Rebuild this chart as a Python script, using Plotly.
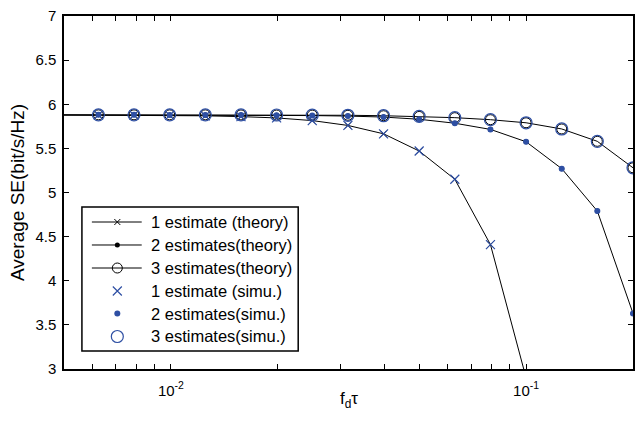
import plotly.graph_objects as go

# Normalised Doppler spread f_d*tau (log axis)
fd_tau = [0.00394, 0.00625, 0.00787, 0.00992, 0.0125, 0.01575, 0.01984, 0.025,
          0.0315, 0.03969, 0.05, 0.063, 0.07937, 0.1, 0.126, 0.1587, 0.2]

# Theoretical average spectral efficiency (bit/s/Hz)
theory_1 = [5.88, 5.879, 5.877, 5.874, 5.869, 5.86, 5.845, 5.815,
            5.76, 5.665, 5.47, 5.15, 4.41, 2.9]
theory_2 = [5.88, 5.88, 5.88, 5.879, 5.878, 5.877, 5.875, 5.872,
            5.866, 5.855, 5.83, 5.785, 5.715, 5.575, 5.27, 4.79, 3.63]
theory_3 = [5.88, 5.88, 5.88, 5.88, 5.88, 5.879, 5.878, 5.877,
            5.875, 5.87, 5.862, 5.848, 5.825, 5.79, 5.72, 5.58, 5.28]

# Simulated average spectral efficiency (starts at the first plotted f_d*tau)
sim_x = fd_tau[1:]
sim_1 = [5.879, 5.877, 5.874, 5.869, 5.86, 5.845, 5.815,
         5.76, 5.665, 5.47, 5.15, 4.41]
sim_2 = [5.88, 5.88, 5.879, 5.878, 5.877, 5.875, 5.872,
         5.866, 5.855, 5.83, 5.785, 5.715, 5.575, 5.27, 4.79, 3.63]
sim_3 = [5.88, 5.88, 5.88, 5.88, 5.879, 5.878, 5.877,
         5.875, 5.87, 5.862, 5.848, 5.825, 5.79, 5.72, 5.58, 5.28]

legend_labels = ["1 estimate (theory)", "2 estimates(theory)", "3 estimates(theory)",
                 "1 estimate (simu.)", "2 estimates(simu.)", "3 estimates(simu.)"]

y_ticks = [3, 3.5, 4, 4.5, 5, 5.5, 6, 6.5, 7]
y_ticktext = ["3", "3.5", "4", "4.5", "5", "5.5", "6", "6.5", "7"]
x_ticks = [0.01, 0.1]
x_ticktext = ["10<sup>-2</sup>", "10<sup>-1</sup>"]
x_minor = [0.006, 0.007, 0.008, 0.009, 0.02, 0.03, 0.04, 0.05, 0.06, 0.07, 0.08, 0.09]

BLACK = "#000000"
BLUE = "#2E4FA3"
FONT = "Liberation Sans, Arial, sans-serif"

# Marker styles: theory (black, with line) and simulation (blue, markers only)
theory_styles = [
    dict(symbol="x-thin-open", size=6, color=BLACK, line=dict(color=BLACK, width=1)),
    dict(symbol="circle", size=5, color=BLACK, line=dict(width=0)),
    dict(symbol="circle-open", size=10, color=BLACK, line=dict(color=BLACK, width=1)),
]
sim_styles = [
    dict(symbol="x-thin-open", size=9, color=BLUE, line=dict(color=BLUE, width=1.2)),
    dict(symbol="circle", size=6, color=BLUE, line=dict(width=0)),
    dict(symbol="circle-open", size=12, color=BLUE, line=dict(color=BLUE, width=1.2)),
]

fig = go.Figure()

theory = [theory_1, theory_2, theory_3]
for vals, mk in zip(theory, theory_styles):
    fig.add_trace(go.Scatter(
        x=fd_tau[:len(vals)], y=vals, mode="lines+markers",
        line=dict(color=BLACK, width=1), marker=mk, showlegend=False))

sims = [sim_1, sim_2, sim_3]
for vals, mk in zip(sims, sim_styles):
    fig.add_trace(go.Scatter(
        x=sim_x[:len(vals)], y=vals, mode="markers",
        marker=mk, showlegend=False))

# Boxed legend drawn on an overlay axis spanning the plot area (0..1)
entry_y = [0.4164, 0.3513, 0.2861, 0.221, 0.1572, 0.0921]
seg_x0, seg_x1, mark_x, text_x = 0.049, 0.1366, 0.0937, 0.1497

fig.add_shape(type="rect", xref="paper", yref="paper",
              x0=0.0315, x1=0.4116, y0=0.051, y1=0.459,
              line=dict(color=BLACK, width=1.5), fillcolor="white", layer="below")

for i in range(3):
    fig.add_trace(go.Scatter(
        x=[seg_x0, seg_x1], y=[entry_y[i], entry_y[i]], mode="lines",
        line=dict(color=BLACK, width=1), xaxis="x2", yaxis="y2",
        showlegend=False, hoverinfo="skip"))
    fig.add_trace(go.Scatter(
        x=[mark_x], y=[entry_y[i]], mode="markers", marker=theory_styles[i],
        xaxis="x2", yaxis="y2", showlegend=False, hoverinfo="skip"))
for i in range(3):
    fig.add_trace(go.Scatter(
        x=[mark_x], y=[entry_y[i + 3]], mode="markers", marker=sim_styles[i],
        xaxis="x2", yaxis="y2", showlegend=False, hoverinfo="skip"))

for label, yy in zip(legend_labels, entry_y):
    fig.add_annotation(x=text_x, y=yy, xref="paper", yref="paper", text=label,
                       showarrow=False, xanchor="left", yanchor="middle",
                       font=dict(family=FONT, size=16.5, color=BLACK))

# x-axis title placed just under the tick labels
fig.add_annotation(x=0.5, y=-0.088, xref="paper", yref="paper",
                   text="f<sub>d</sub>τ", showarrow=False,
                   xanchor="center", yanchor="middle",
                   font=dict(family=FONT, size=17, color=BLACK))

axis_common = dict(showline=True, linecolor=BLACK, linewidth=1.5, mirror="ticks",
                   ticks="inside", ticklen=5, tickcolor=BLACK, tickwidth=1,
                   showgrid=False, zeroline=False,
                   tickfont=dict(family=FONT, size=15, color=BLACK))

fig.update_layout(
    width=641, height=423,
    margin=dict(l=64, r=6, t=16, b=54),
    paper_bgcolor="white", plot_bgcolor="white",
    font=dict(family=FONT, color=BLACK),
    xaxis=dict(type="log", range=[-2.30103, -0.69897],
               tickvals=x_ticks, ticktext=x_ticktext, ticklabelstandoff=7,
               minor=dict(tickvals=x_minor, ticks="inside", ticklen=5,
                          tickcolor=BLACK, tickwidth=1),
               **axis_common),
    yaxis=dict(range=[3, 7], tickvals=y_ticks, ticktext=y_ticktext,
               ticklabelstandoff=3,
               title=dict(text="Average SE(bit/s/Hz)", font=dict(family=FONT, size=19),
                          standoff=6),
               **axis_common),
    xaxis2=dict(overlaying="x", range=[0, 1], visible=False),
    yaxis2=dict(overlaying="y", range=[0, 1], visible=False),
)

fig.write_html("out.html")
